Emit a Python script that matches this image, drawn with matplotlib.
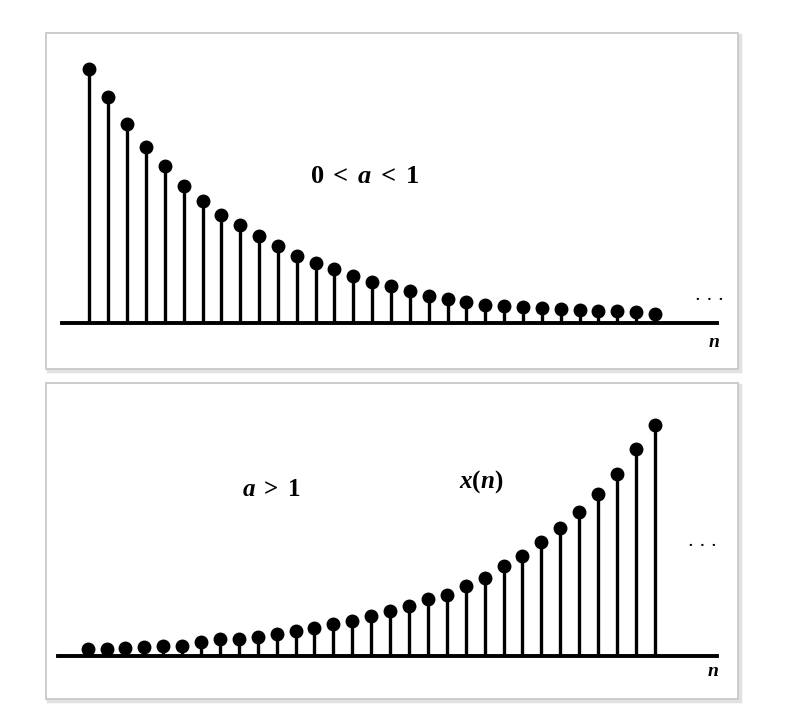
import matplotlib.pyplot as plt
from matplotlib.patches import Rectangle
import numpy as np

# sample index and stem heights (pixels above the axis)
n = np.arange(31)
decay = [254, 226, 199, 176, 157, 137, 122, 108, 98, 87, 77, 67, 60, 54, 47, 41,
         37, 32, 27, 24, 21, 18, 17, 16, 15, 14, 13, 12, 12, 11, 9]
growth = [7, 7, 8, 9, 10, 10, 14, 17, 17, 19, 22, 25, 28, 32, 35, 40,
          45, 50, 57, 61, 70, 78, 90, 100, 114, 128, 144, 162, 182, 207, 231]

W, H = 800, 720
plt.rcParams['font.family'] = ['Liberation Serif', 'DejaVu Serif']
plt.rcParams['mathtext.fontset'] = 'custom'
plt.rcParams['mathtext.rm'] = 'Liberation Serif:bold'
plt.rcParams['mathtext.it'] = 'Liberation Serif:italic:bold'
fig = plt.figure(figsize=(8, 7.2), dpi=100)


def px_box(x0, y0, x1, y1):
    return [x0 / W, 1 - y1 / H, (x1 - x0) / W, (y1 - y0) / H]


def panel(box, vals, xlim, ylim, axis_span):
    # soft shadow + grey frame like the scanned figure
    x0, y0, x1, y1 = box
    b = px_box(x0, y0, x1, y1)
    ax = fig.add_axes(b)
    ax.add_patch(Rectangle((2 / (x1 - x0), -2 / (y1 - y0)), 1, 1, transform=ax.transAxes,
                           facecolor='none', edgecolor='#e2e2e2', lw=2.5, clip_on=False, zorder=0))
    ax.add_patch(Rectangle((0, 0), 1, 1, transform=ax.transAxes,
                           facecolor='white', edgecolor='#c8c8c8', lw=1.3, clip_on=False, zorder=0.5))
    ax.set_xlim(*xlim)
    ax.set_ylim(*ylim)
    ax.axis('off')
    ax.axhline(0, xmin=axis_span[0], xmax=axis_span[1], color='black', lw=2.8)
    ax.vlines(n, 0, vals, color='black', lw=2.4)
    ax.plot(n, vals, 'o', color='black', ms=9)
    return ax


ax1 = panel((46, 33, 738, 369), decay, (-2.3, 34.4), (-46, 290), (0.023, 0.97))
ax1.text(14.6, 146, r'$0\;<\;a\;<\;1$', fontsize=19, ha='center', va='center')
ax1.text(32.9, 26, '.  .  .', fontsize=11, ha='center', va='center', fontweight='bold')
ax1.text(33.1, -20, r'$n$', fontsize=14, ha='center', va='center')

ax2 = panel((46, 383, 738, 699), growth, (-2.2, 34.4), (-43, 273), (0.018, 0.97))
ax2.text(9.7, 166, r'$a\;>\;1$', fontsize=18, ha='center', va='center')
ax2.text(20.8, 174, r'$x(n)$', fontsize=18, ha='center', va='center')
ax2.text(32.5, 113, '.  .  .', fontsize=11, ha='center', va='center', fontweight='bold')
ax2.text(33.1, -16, r'$n$', fontsize=14, ha='center', va='center')

fig.savefig('out.png', dpi=100, facecolor='white')
